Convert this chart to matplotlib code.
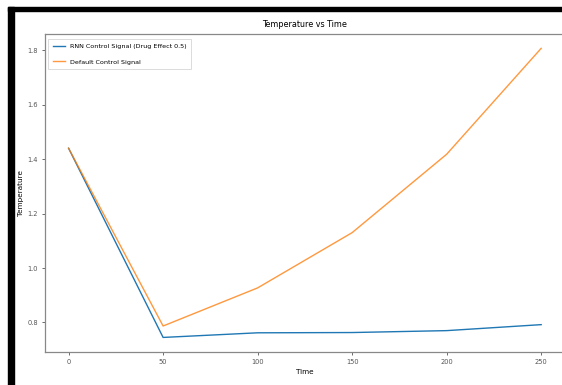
import matplotlib
matplotlib.use("Agg")
import matplotlib.pyplot as plt
from matplotlib.patches import Rectangle

time = [0, 50, 100, 150, 200, 250]
rnn_temp = [1.44, 0.745, 0.762, 0.763, 0.770, 0.792]
default_temp = [1.44, 0.787, 0.927, 1.130, 1.418, 1.807]

fig = plt.figure(figsize=(5.62, 3.85), dpi=100)
ax = fig.add_axes([0.080, 0.086, 0.925, 0.826])

ax.plot(time, rnn_temp, color="#1f77b4", lw=1.0, label="RNN Control Signal (Drug Effect 0.5)")
ax.plot(time, default_temp, color="#ff7f0e", lw=1.0, alpha=0.8, label="Default Control Signal")

ax.set_title("Temperature vs Time", fontsize=5.8, pad=5)
ax.set_xlabel("Time", fontsize=5.2, labelpad=3)
ax.set_ylabel("Temperature", fontsize=5.2)
ax.yaxis.set_label_coords(-0.040, 0.5)
ax.set_xticks([0, 50, 100, 150, 200, 250])
ax.set_yticks([0.8, 1.0, 1.2, 1.4, 1.6, 1.8])
ax.tick_params(labelsize=4.8, length=2, width=0.6, colors="#555", pad=3)
for s in ax.spines.values():
    s.set_color("#888")
    s.set_linewidth(0.9)

leg = ax.legend(loc="upper left", fontsize=4.6, frameon=True, handlelength=1.9,
                handletextpad=0.7, borderpad=0.75, labelspacing=1.6, fancybox=False,
                bbox_to_anchor=(0.0, 0.995))
leg.get_frame().set_edgecolor("#ccc")
leg.get_frame().set_linewidth(0.6)

# black screenshot border on top and left
fig.patches.append(Rectangle((8 / 562, 1 - 11 / 385), 1, 4 / 385, transform=fig.transFigure,
                             color="black", zorder=10))
fig.patches.append(Rectangle((8 / 562, 0), 6 / 562, 1 - 7 / 385, transform=fig.transFigure,
                             color="black", zorder=10))

fig.savefig("out.png", dpi=100)
